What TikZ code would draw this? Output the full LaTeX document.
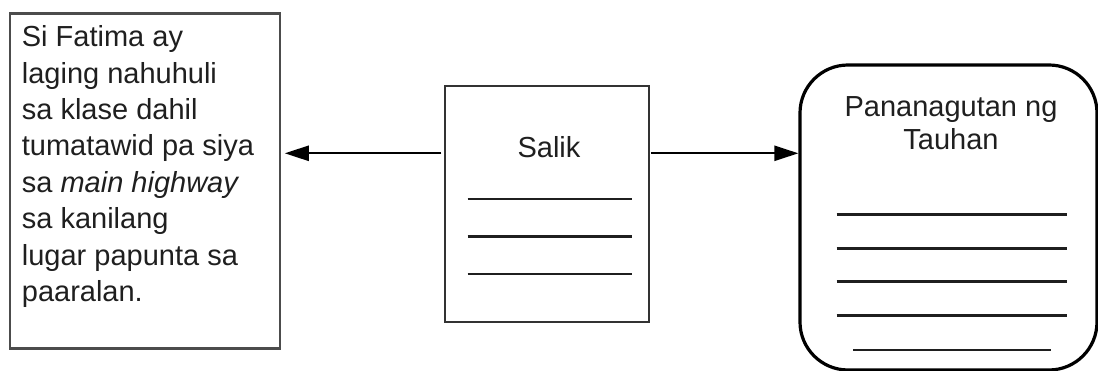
\documentclass[tikz,border=0pt]{standalone}
\usepackage{fontspec}
\setmainfont{Liberation Sans}
\usetikzlibrary{arrows.meta}
\begin{document}
\begin{tikzpicture}[x=1pt,y=-1pt,
  txt/.style={inner sep=0pt,text=black!88,font=\fontsize{29}{36.4}\selectfont},
  boxA/.style={draw=black!70,line width=2.5pt,minimum width=270pt,minimum height=335pt,inner sep=0pt},
  boxB/.style={draw=black!80,line width=2.5pt,minimum width=204pt,minimum height=236pt,inner sep=0pt},
  boxC/.style={draw=black,line width=3.2pt,rounded corners=48pt,minimum width=297pt,minimum height=305pt,inner sep=0pt},
  blank/.style={draw=black!88,line width=2.4pt},
  arr/.style={draw=black,line width=2.4pt,-{Triangle[length=24pt,width=15pt]}}]
\useasboundingbox (0,0) rectangle (1098,371);
% boxes
\node[boxA] (story) at (145,180.8) {};
\node[boxB] (salik) at (547,204) {};
\node[boxC] (resp) at (948.5,217.5) {};
% texts
\node[txt,anchor=north west,align=left] (storytext) at (21.7,25.5)
  {Si Fatima ay\\laging nahuhuli\\sa klase dahil\\tumatawid pa siya\\sa \textit{main highway}\\sa kanilang\\lugar papunta sa\\paaralan.};
\node[txt,anchor=base] (saliktext) at (549,157.7) {Salik};
\node[txt,anchor=base] (resptext1) at (951,116.7) {Pananagutan ng};
\node[txt,anchor=base] (resptext2) at (951,150) {Tauhan};
% blanks in Salik
\draw[blank] (467.5,199.3) -- (631.5,199.3);
\draw[blank] (467.5,236.7) -- (631.5,236.7);
\draw[blank] (467.5,274.3) -- (631.5,274.3);
% blanks in Pananagutan
\draw[blank,line width=3pt] (836.7,215) -- (1067.3,215);
\draw[blank,line width=3pt] (836.7,248.3) -- (1067.3,248.3);
\draw[blank,line width=3pt] (836.7,281.7) -- (1067.3,281.7);
\draw[blank,line width=3pt] (836.7,316) -- (1067.3,316);
\draw[blank,line width=2pt] (853,350) -- (1050.7,350);
% connectors
\coordinate (ay) at (0,153.3);
\draw[arr,shorten <=2.5pt,shorten >=3.5pt] (salik.west |- ay) -- (story.east |- ay);
\draw[arr,shorten <=0.5pt] (salik.east |- ay) -- (resp.west |- ay);
\end{tikzpicture}
\end{document}
